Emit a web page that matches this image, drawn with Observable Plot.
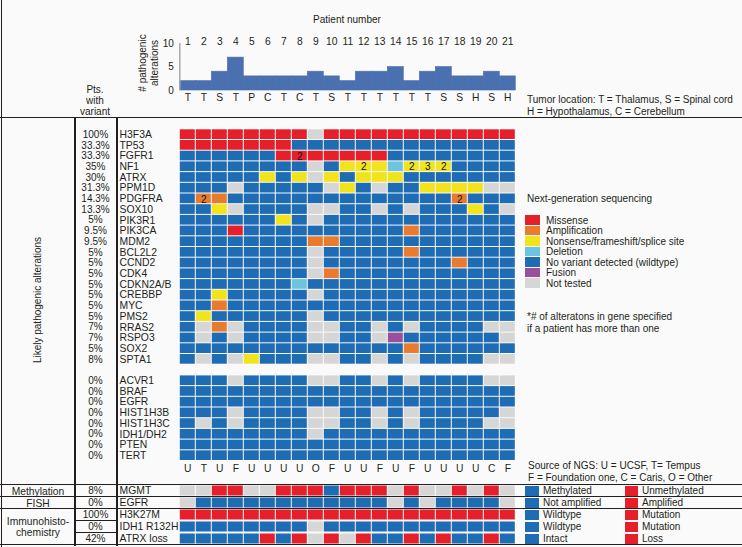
<!DOCTYPE html>
<html><head><meta charset="utf-8">
<script src="https://cdn.jsdelivr.net/npm/d3@7"></script>
<script src="https://cdn.jsdelivr.net/npm/@observablehq/plot@0.6"></script>
<style>
body{margin:0;background:#fafafa;}
#c{position:relative;width:742px;height:547px;overflow:hidden;background:#fafafa;font-family:"Liberation Sans",Arial,sans-serif;font-size:10px;color:#231f20;}
#c svg{position:absolute;left:0;top:0;overflow:visible;}
.t{position:absolute;white-space:nowrap;line-height:1;}
.ln{position:absolute;background:#231f20;}
.sw{position:absolute;}
</style></head><body><div id="c"></div>
<script>
// ---------- data ----------
const patients = ["1","2","3","4","5","6","7","8","9","10","11","12","13","14","15","16","17","18","19","20","21"];
const tumorLocation = ["T","T","S","T","P","C","T","C","T","S","T","T","T","T","T","T","S","S","H","S","H"];
const altCount = [2,2,4,7,3,3,3,3,4,3,2,4,4,5,2,4,5,3,3,4,3];
const ngsSource = ["U","T","U","F","U","U","U","U","O","F","U","U","F","U","F","U","U","U","U","C","F"];

const genesLikely = ["H3F3A","TP53","FGFR1","NF1","ATRX","PPM1D","PDGFRA","SOX10","PIK3R1","PIK3CA","MDM2","BCL2L2","CCND2","CDK4","CDKN2A/B","CREBBP","MYC","PMS2","RRAS2","RSPO3","SOX2","SPTA1"];
const pctLikely = ["100%","33.3%","33.3%","35%","30%","31.3%","14.3%","13.3%","5%","9.5%","9.5%","5%","5%","5%","5%","5%","5%","5%","7%","7%","5%","8%"];
// M missense, A amplification, N nonsense/frameshift/splice, D deletion, W wildtype, F fusion, X not tested
const statusLikely = [
  "MMMMMMMMXMMMMMMMMMMMM",
  "MMMMMMMWWWWWWWWWWWWWW",
  "WWWWWWMMMMMMMWWWWWWWW",
  "WWWWWWWWXWNNNDNNNWWWW",
  "WWWWWNWNXNWNNNWWWWWWW",
  "WWWXWWWWWXNWXWWNNNNXX",
  "WAAWWWWWWWWWWWWWWAWWW",
  "WWNXWWWWXXWWXWXWWWNWX",
  "WWWWWWNWXWWWWWWWWWWWW",
  "WWWMWWWWWWWWWWAWWWWWW",
  "WWWWWWWWAAWWWWWWWWWWW",
  "WWWWWWWWXWWWWWAWWWWWW",
  "WWWWWWWWXWWWWWWWWAWWW",
  "WWWWWWWWXAWWWWWWWWWWW",
  "WWWWWWWDWWWWWWWWWWWWW",
  "WWNWWWWWXWWWWWWWWWWWW",
  "WWAWWWWWWWWWWWWWWWWWW",
  "WNWWWWWWXWWWWWWWWWWWW",
  "WXAXWWWWXXWWXWXWWWWXX",
  "WXWXWWWWXXWWXFWWWWWWX",
  "WWWWWWWWWWWWWWAWWWWWW",
  "WXWXNWWWXXWWXWXWWWWXX"
];
const genesOther = ["ACVR1","BRAF","EGFR","HIST1H3B","HIST1H3C","IDH1/DH2","PTEN","TERT"];
const pctOther = ["0%","0%","0%","0%","0%","0%","0%","0%"];
const statusOther = [
  "WWWXWWWWXXWWXWXWWWWXX",
  "WWWWWWWWWWWWWWWWWWWWW",
  "WWWWWWWWWWWWWWWWWWWWW",
  "WWWXWWWWXXWWXWXWWWWWX",
  "WXWXWWWWXXWWXWXWWWWXX",
  "WWWWWWWWXWWWWWWWWWWWW",
  "WWWWWWWWWWWWWWWWWWWWW",
  "WWWWWWWWWWWWWWWWWWWWW"
];
const multiHits = [
  {gene:"FGFR1", patient:"8", n:"2"},
  {gene:"NF1", patient:"12", n:"2"},
  {gene:"NF1", patient:"15", n:"2"},
  {gene:"NF1", patient:"16", n:"3"},
  {gene:"NF1", patient:"17", n:"2"},
  {gene:"PDGFRA", patient:"2", n:"2"},
  {gene:"PDGFRA", patient:"18", n:"2"}
];
const statusCodes = ["M","A","N","D","W","F","X"];
const statusLabels = ["Missense","Amplification","Nonsense/frameshift/splice site","Deletion","No variant detected (wildtype)","Fusion","Not tested"];
const statusColors = ["#e6202a","#e97b2f","#f1e41c","#6cc5dc","#1e6cb3","#9a4f9c","#d6d6d6"];

const clinRows = ["MGMT","EGFR","H3K27M","IDH1 R132H","ATRX loss"];
const clinPct = ["8%","0%","100%","0%","42%"];
const clinGroups = [{row:"MGMT", t:"Methylation"},{row:"EGFR", t:"FISH"},{row:"IDH1 R132H", t:"Immunohisto-\nchemistry"}];
// B = negative (blue), R = positive (red), X = not tested
const clinStatus = [
  "XXRRXXRRRBRRRXRXXRXRX",
  "XBBBBBBBBBBBBXBXBBBBX",
  "RRRRRRRRRRRRRRRRRRRRR",
  "BBBBBBBBXBBBBBBBBBBBB",
  "BBBBBRBRXRXRBBRBRBBRB"
];
const clinNeg = ["Methylated","Not amplified","Wildtype","Wildtype","Intact"];
const clinPos = ["Unmethylated","Amplified","Mutation","Mutation","Loss"];
const clinCodes = ["B","R","X"];
const clinColors = ["#1e6cb3","#e6202a","#d6d6d6"];

// ---------- helpers ----------
const C = document.getElementById("c");
const FONT = '"Liberation Sans", Arial, sans-serif';
const FS = "10px";
function txt(s, x, y, anchor = "start", rot = false) {
  const d = document.createElement("div");
  d.className = "t";
  d.textContent = s;
  d.style.left = x + "px"; d.style.top = y + "px";
  const tx = anchor === "middle" ? "-50%" : anchor === "end" ? "-100%" : "0";
  d.style.transform = rot ? "translate(-50%,-50%) rotate(-90deg)" : `translate(${tx},-50%)`;
  C.appendChild(d);
  return d;
}
function line(x1, y1, x2, y2, w = 1.2) {
  const d = document.createElement("div");
  d.className = "ln";
  if (y1 === y2) { d.style.left = x1 + "px"; d.style.top = (y1 - w/2) + "px"; d.style.width = (x2 - x1) + "px"; d.style.height = w + "px"; }
  else { d.style.left = (x1 - w/2) + "px"; d.style.top = y1 + "px"; d.style.width = w + "px"; d.style.height = (y2 - y1) + "px"; }
  C.appendChild(d);
}
function swatch(x, y, w, h, color) {
  const d = document.createElement("div");
  d.className = "sw";
  d.style.left = x + "px"; d.style.top = y + "px"; d.style.width = w + "px"; d.style.height = h + "px";
  d.style.background = color;
  C.appendChild(d);
}

const W = 742, H = 547;
const gridLeft = 179.3, gridRight = 515.3;

// ---------- top bar chart ----------
const barData = patients.map((p, i) => ({patient: p, n: altCount[i], loc: tumorLocation[i]}));
const bar = Plot.plot({
  width: W, height: 117,
  marginLeft: gridLeft, marginRight: W - gridRight, marginTop: 43, marginBottom: 27,
  x: {type: "band", domain: patients, padding: 0, round: false, axis: null},
  y: {domain: [0, 10], ticks: [0, 5, 10], tickSize: 0, tickPadding: 6, label: null},
  style: {fontFamily: FONT, fontSize: FS, color: "#231f20", background: "none"},
  marks: [
    Plot.barY(barData, {x: "patient", y: "n", fill: "#4a70b0", stroke: "#4a70b0", strokeWidth: 0.6}),
    Plot.ruleX([patients[0]], {x: d => d, y1: 0, y2: 10, dx: -8, stroke: "#a8a8a8", strokeWidth: 1.5}),
    Plot.text(barData, {x: "patient", text: "patient", frameAnchor: "top", dy: -5.5, fontSize: 10.3}),
    Plot.text(barData, {x: "patient", text: "loc", frameAnchor: "bottom", dy: 10, fontSize: 10.3})
  ]
});
C.appendChild(bar);

// ---------- main grid ----------
const rowKeys = [...genesLikely, "gap", ...genesOther, "src"];
const rowStep = 10.7, gridTop = 128.8;
const cells = [];
genesLikely.forEach((g, i) => statusLikely[i].split("").forEach((s, j) => cells.push({gene: g, patient: patients[j], status: s})));
genesOther.forEach((g, i) => statusOther[i].split("").forEach((s, j) => cells.push({gene: g, patient: patients[j], status: s})));
const geneInfo = [
  ...genesLikely.map((g, i) => ({gene: g, pct: pctLikely[i]})),
  ...genesOther.map((g, i) => ({gene: g, pct: pctOther[i]}))
];
const srcData = patients.map((p, i) => ({patient: p, src: ngsSource[i], row: "src"}));

const grid = Plot.plot({
  width: W, height: H,
  marginLeft: gridLeft, marginRight: W - gridRight,
  marginTop: gridTop, marginBottom: H - (gridTop + rowKeys.length * rowStep),
  x: {type: "band", domain: patients, padding: 0, round: false, axis: null},
  y: {type: "band", domain: rowKeys, padding: 0, round: false, axis: null},
  color: {domain: statusCodes, range: statusColors},
  style: {fontFamily: FONT, fontSize: FS, color: "#231f20", background: "none"},
  marks: [
    Plot.cell(cells, {x: "patient", y: "gene", fill: "status", inset: 0.5}),
    Plot.text(multiHits, {x: "patient", y: "gene", text: "n", fill: "#111", dy: 0.5}),
    Plot.text(geneInfo, {y: "gene", text: "gene", frameAnchor: "left", textAnchor: "start", dx: 119 - gridLeft, fontSize: 10.4}),
    Plot.text(geneInfo, {y: "gene", text: "pct", frameAnchor: "left", textAnchor: "middle", dx: 95 - gridLeft}),
    Plot.text(srcData, {x: "patient", y: "row", text: "src", dy: 2, fontSize: 10.3})
  ]
});
C.appendChild(grid);

// ---------- clinical rows ----------
const clinTop = 484.5, clinStep = 12;
const clinCells = [];
clinRows.forEach((r, i) => clinStatus[i].split("").forEach((s, j) => clinCells.push({row: r, patient: patients[j], status: s})));
const clinInfo = clinRows.map((r, i) => ({row: r, pct: clinPct[i]}));
const clin = Plot.plot({
  width: W, height: H,
  marginLeft: gridLeft, marginRight: W - gridRight,
  marginTop: clinTop, marginBottom: H - (clinTop + clinRows.length * clinStep),
  x: {type: "band", domain: patients, padding: 0, round: false, axis: null},
  y: {type: "band", domain: clinRows, padding: 0, round: false, axis: null},
  color: {domain: clinCodes, range: clinColors},
  style: {fontFamily: FONT, fontSize: FS, color: "#231f20", background: "none"},
  marks: [
    Plot.cell(clinCells, {x: "patient", y: "row", fill: "status", insetLeft: 0.5, insetRight: 0.5, insetTop: 1, insetBottom: 1}),
    Plot.text(clinInfo, {y: "row", text: "row", frameAnchor: "left", textAnchor: "start", dx: 119 - gridLeft, fontSize: 10.4}),
    Plot.text(clinInfo, {y: "row", text: "pct", frameAnchor: "left", textAnchor: "middle", dx: 95 - gridLeft}),
    Plot.text(clinGroups, {y: "row", text: "t", frameAnchor: "left", textAnchor: "middle", dx: 37.5 - gridLeft, lineHeight: 1.1, fontSize: 10.3})
  ]
});
C.appendChild(clin);

// clinical legend, positioned from the clinical y scale
const cy = clin.scale("y");
clinRows.forEach((r, i) => {
  const y0 = cy.apply(r), bw = cy.bandwidth;
  swatch(525, y0 + 1, 14, bw - 2, clinColors[0]);
  swatch(624.5, y0 + 1, 13.5, bw - 2, clinColors[1]);
  txt(clinNeg[i], 543, y0 + bw / 2 + 0.5);
  txt(clinPos[i], 642, y0 + bw / 2 + 0.5);
});

// ---------- NGS legend ----------
txt("Next-generation sequencing", 527, 198.5);
statusLabels.forEach((l, i) => {
  const yc = 220 + 10.5 * i;
  swatch(525, yc - 4.8, 15, 9.6, statusColors[i]);
  txt(l, 546, yc + 0.5);
});
txt("*# of alteratons in gene specified", 527, 316.5);
txt("if a patient has more than one", 527, 328.5);

// ---------- other text ----------
txt("Patient number", 347, 20, "middle");
const yt = txt("", 149, 63, "middle", true);
yt.innerHTML = "# pathogenic<br>alterations";
yt.style.textAlign = "center"; yt.style.lineHeight = "12px";
txt("Pts.", 95, 89.5, "middle");
txt("with", 95, 100.5, "middle");
txt("variant", 95, 112, "middle");
txt("Tumor location: T = Thalamus, S = Spinal cord", 527, 100);
txt("H = Hypothalamus, C = Cerebellum", 527, 112);
txt("Likely pathogenic alterations", 37.5, 300, "middle", true);
txt("Source of NGS: U = UCSF, T= Tempus", 528, 465.5);
txt("F = Foundation one, C = Caris, O = Other", 528, 477.5);

// ---------- frame lines ----------
line(1.5, 0, 1.5, 547);
line(0, 117.5, 742, 117.5);
line(75, 117.5, 75, 545.5);
line(117, 117.5, 117, 545.5);
clinRows.forEach((r, i) => {
  const y0 = cy.apply(r);
  if (i <= 2) line(0, y0, 742, y0);
  else line(75, y0, 117, y0);
});
line(0, clinTop + clinRows.length * clinStep, 742, clinTop + clinRows.length * clinStep);
</script></body></html>
